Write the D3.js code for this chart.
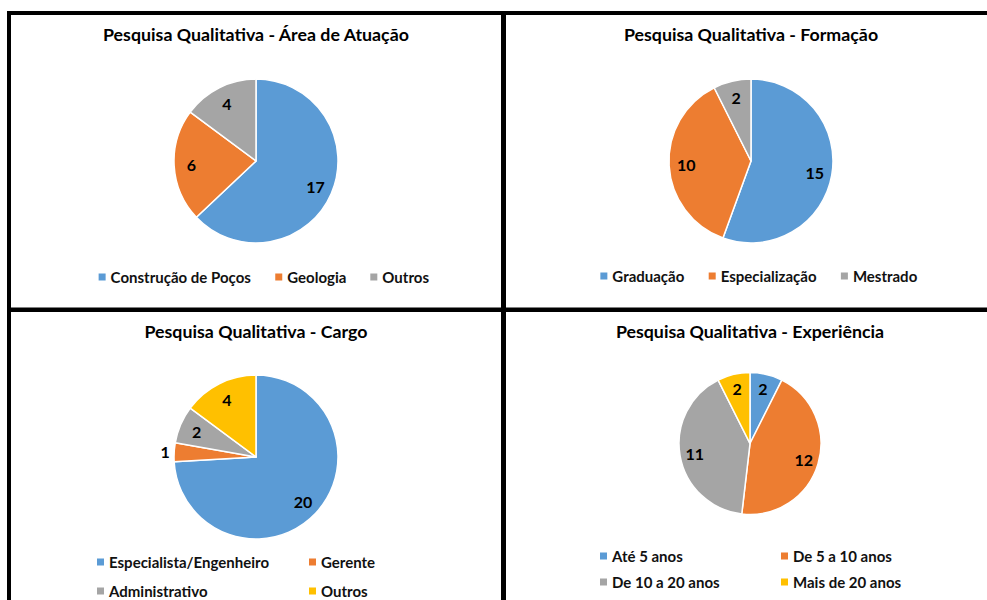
<!DOCTYPE html>
<html>
<head>
<meta charset="utf-8">
<script src="https://cdn.jsdelivr.net/npm/d3@7"></script>
<style>
  html, body { margin: 0; padding: 0; background: #fff; }
  svg { display: block; font-family: Lato, "Open Sans", sans-serif; }
</style>
</head>
<body>
<svg id="chart" width="987" height="600"></svg>
<script>
// Survey results: four pie charts
const chartTitles = [
  "Pesquisa Qualitativa - Área de Atuação",
  "Pesquisa Qualitativa - Formação",
  "Pesquisa Qualitativa - Cargo",
  "Pesquisa Qualitativa - Experiência"
];

const areaCategories = ["Construção de Poços", "Geologia", "Outros"];
const areaValues = [17, 6, 4];

const formacaoCategories = ["Graduação", "Especialização", "Mestrado"];
const formacaoValues = [15, 10, 2];

const cargoCategories = ["Especialista/Engenheiro", "Gerente", "Administrativo", "Outros"];
const cargoValues = [20, 1, 2, 4];

const experienciaCategories = ["Até 5 anos", "De 5 a 10 anos", "De 10 a 20 anos", "Mais de 20 anos"];
const experienciaValues = [2, 12, 11, 2];

const sliceColors = ["#5B9BD5", "#ED7D31", "#A5A5A5", "#FFC000"];

const svg = d3.select("#chart");

// Panel layout: pie centre, radius, title baseline and legend arrangement
const panels = [
  { title: chartTitles[0], cats: areaCategories, vals: areaValues,
    cx: 256, cy: 161, r: 82, titleY: 41,
    legend: { type: "row", y: 277, shift: 8 } },
  { title: chartTitles[1], cats: formacaoCategories, vals: formacaoValues,
    cx: 751, cy: 161, r: 82, titleY: 41,
    legend: { type: "row", y: 276, shift: 8 } },
  { title: chartTitles[2], cats: cargoCategories, vals: cargoValues,
    cx: 256, cy: 457, r: 82, titleY: 338,
    legend: { type: "grid", cols: [97, 309], rows: [562, 591] } },
  { title: chartTitles[3], cats: experienciaCategories, vals: experienciaValues,
    cx: 750, cy: 443.5, r: 71, titleY: 338,
    legend: { type: "grid", cols: [600, 781], rows: [556, 582] } }
];

const pie = d3.pie().sort(null).value(d => d.value).startAngle(0).endAngle(2 * Math.PI);
const color = d3.scaleOrdinal().range(sliceColors);

panels.forEach(p => {
  const data = p.cats.map((c, i) => ({ cat: c, value: p.vals[i] }));
  const total = d3.sum(p.vals);
  color.domain(p.cats);

  const g = svg.append("g");

  // title
  g.append("text")
    .attr("x", p.cx).attr("y", p.titleY)
    .attr("text-anchor", "middle")
    .attr("font-size", 17.8).attr("font-weight", 700)
    .attr("fill", "#000")
    .text(p.title);

  const arc = d3.arc().innerRadius(0).outerRadius(p.r);
  const labelArc = d3.arc().innerRadius(p.r * 0.79).outerRadius(p.r * 0.79);
  const outerLabelArc = d3.arc().innerRadius(p.r * 1.11).outerRadius(p.r * 1.11);

  const pg = g.append("g").attr("transform", `translate(${p.cx},${p.cy})`);
  const arcs = pie(data);

  pg.selectAll("path").data(arcs).join("path")
    .attr("d", arc)
    .attr("fill", d => color(d.data.cat))
    .attr("stroke", "#fff")
    .attr("stroke-width", 1.5)
    .attr("stroke-linejoin", "round");

  pg.selectAll("text").data(arcs).join("text")
    .attr("transform", d => {
      const small = d.data.value / total < 0.05;
      const c = (small ? outerLabelArc : labelArc).centroid(d);
      return `translate(${c[0]},${c[1]})`;
    })
    .attr("text-anchor", "middle")
    .attr("dominant-baseline", "central")
    .attr("font-size", 16).attr("font-weight", 700)
    .attr("fill", "#000")
    .text(d => d.data.value);

  // legend
  const lg = g.append("g").attr("font-size", 15).attr("font-weight", 700).attr("fill", "#111");
  const sq = 7, gap = 5;
  if (p.legend.type === "row") {
    const items = lg.selectAll("g.item").data(p.cats).join("g").attr("class", "item");
    items.append("rect").attr("width", sq).attr("height", sq).attr("y", -sq / 2)
      .attr("fill", d => color(d));
    items.append("text").attr("x", sq + gap).attr("dominant-baseline", "central").text(d => d);
    const widths = [];
    items.each(function () { widths.push(this.getBBox().width); });
    const spacing = 24;
    const totalW = d3.sum(widths) + spacing * (widths.length - 1);
    let x = p.cx + p.legend.shift - totalW / 2;
    items.attr("transform", (d, i) => {
      const t = `translate(${x},${p.legend.y})`;
      x += widths[i] + spacing;
      return t;
    });
  } else {
    const items = lg.selectAll("g.item").data(p.cats).join("g").attr("class", "item")
      .attr("transform", (d, i) => `translate(${p.legend.cols[i % 2]},${p.legend.rows[Math.floor(i / 2)]})`);
    items.append("rect").attr("width", sq).attr("height", sq).attr("y", -sq / 2)
      .attr("fill", d => color(d));
    items.append("text").attr("x", sq + gap).attr("dominant-baseline", "central").text(d => d);
  }
});

// panel frame lines
const frame = svg.append("g").attr("fill", "#000");
frame.append("rect").attr("x", 7).attr("y", 11).attr("width", 980).attr("height", 4);
frame.append("rect").attr("x", 7).attr("y", 11).attr("width", 4).attr("height", 589);
frame.append("rect").attr("x", 501).attr("y", 11).attr("width", 5).attr("height", 589);
frame.append("rect").attr("x", 7).attr("y", 307.5).attr("width", 980).attr("height", 4.5);
</script>
</body>
</html>
